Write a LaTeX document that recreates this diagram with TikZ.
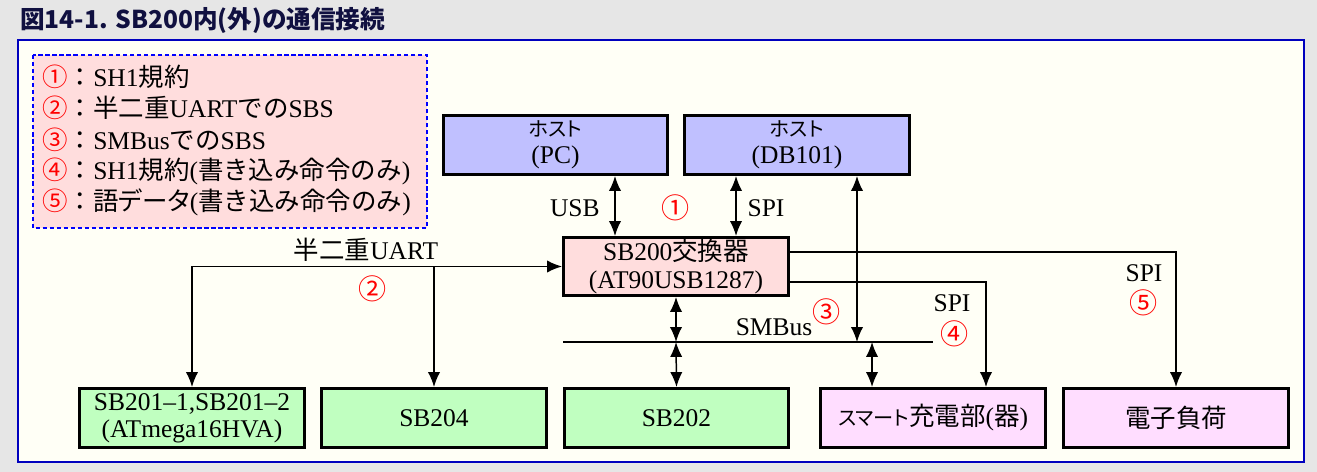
\documentclass[tikz,border=0pt]{standalone}
\usepackage{fontspec}
\setmainfont{Liberation Serif}
\newfontfamily\jp{Noto Sans CJK JP}
\newfontfamily\jpp[RawFeature=+palt]{Noto Sans CJK JP}
\usetikzlibrary{arrows.meta, positioning}
\definecolor{pagegray}{RGB}{230, 230, 230}
\definecolor{panelbg}{RGB}{255, 255, 246}
\definecolor{frameblue}{RGB}{0, 0, 190}
\definecolor{titlenavy}{RGB}{16, 16, 64}
\definecolor{hostblue}{RGB}{192, 192, 255}
\definecolor{corepink}{RGB}{255, 221, 221}
\definecolor{battgreen}{RGB}{192, 255, 192}
\definecolor{loadpink}{RGB}{255, 221, 255}
\definecolor{legendblue}{RGB}{0, 0, 255}

\begin{document}
\begin{tikzpicture}[x=0.02cm, y=-0.02cm,
  box/.style={draw, line width=1.7pt, minimum width=4.5cm, minimum height=1.18cm,
    inner sep=0pt, align=center, font=\fontsize{14.5}{15.5}\selectfont},
  hostbox/.style={box, fill=hostblue},
  corebox/.style={box, fill=corepink, minimum height=1.16cm},
  battbox/.style={box, fill=battgreen},
  loadbox/.style={box, fill=loadpink},
  link/.style={line width=0.85pt, -{Latex[length=8.5pt,width=7pt]}},
  dlink/.style={line width=0.85pt, {Latex[length=8.5pt,width=7pt]}-{Latex[length=8.5pt,width=7pt]}},
  lbl/.style={inner sep=0pt, font=\fontsize{14.5}{15.5}\selectfont},
  num/.style={inner sep=0pt, text=red, font=\jp\fontsize{16}{17}\selectfont},
  ]
  % 背景と枠
  \fill[pagegray] (0,0) rectangle (1317,472);
  \draw[frameblue, line width=1.1pt, fill=panelbg] (18,40) rectangle (1304,462);
  \node[anchor=west, inner sep=0pt, text=titlenavy, font=\jp\bfseries\fontsize{14}{15}\selectfont]
    (title) at (20,21) {図14-1. SB200内(外)の通信接続};

  % 凡例
  \draw[legendblue, line width=0.7pt, dash pattern=on 2.4pt off 1.6pt, fill=corepink]
    (33,55) rectangle (427,228);
  \node[lbl, anchor=west] (leg1) at (42,77)  {{\jp\textcolor{red}{①}：}SH1{\jp 規約}};
  \node[lbl, anchor=west] (leg2) at (42,108) {{\jp\textcolor{red}{②}：半二重}UART{\jp での}SBS};
  \node[lbl, anchor=west] (leg3) at (42,140) {{\jp\textcolor{red}{③}：}SMBus{\jp での}SBS};
  \node[lbl, anchor=west] (leg4) at (42,171) {{\jp\textcolor{red}{④}：}SH1{\jp 規約}({\jp 書き込み命令のみ})};
  \node[lbl, anchor=west] (leg5) at (42,202) {{\jp\textcolor{red}{⑤}：語}{\jpp データ}({\jp 書き込み命令のみ})};

  % ホストと交換器
  \node[hostbox] (pc) at (555.5,145) {{\jpp\fontsize{11.5}{12}\selectfont ホスト}\\(PC)};
  \node[hostbox] (db) at (797,145) {{\jpp\fontsize{11.5}{12}\selectfont ホスト}\\(DB101)};
  \node[corebox] (core) at (676,266.5) {SB200{\jp 交換器}\\(AT90USB1287)};

  % 下段の機器
  \node[battbox] (sb201) at (192,418) {SB201--1,SB201--2\\(ATmega16HVA)};
  \node[battbox] (sb204) at (434,418) {SB204};
  \node[battbox] (sb202) at (676.5,418) {SB202};
  \node[loadbox] (chg) at (933,418)
    {{\jpp\fontsize{11.5}{12}\selectfont スマート}{\jp 充電部}({\jp 器})};
  \node[loadbox] (load) at (1176,418) {{\jp 電子負荷}};

  % USB / SPI
  \coordinate (usb) at ([xshift=1.19cm]pc.south);
  \coordinate (spi) at ([xshift=-1.22cm]db.south);
  \draw[dlink] (usb) -- (usb |- core.north);
  \draw[dlink] (spi) -- (spi |- core.north);
  \node[lbl, anchor=east] (usblbl) at (600,208) {USB};
  \node[lbl] (spilbl1) at (766,208) {SPI};
  \node[num] (n1) at (676,208) {①};

  % 半二重UART
  \coordinate (uart) at (sb201.north |- core.west);
  \draw[link] (uart) -- (core.west);
  \draw[link] (uart) -- (sb201.north);
  \draw[link] (uart -| sb204.north) -- (sb204.north);
  \node[lbl] (uartlbl) at (366,250) {{\jp 半二重}UART};
  \node[num] (n2) at (373,289) {②};

  % SMBus
  \coordinate (busL) at (563,342);
  \coordinate (busR) at (933,342);
  \draw[line width=1.4pt] (busL) -- (busR);
  \draw[dlink] (core.south) -- (core.south |- busL);
  \draw[dlink] (core.south |- busL) -- (sb202.north);
  \coordinate (dbs) at ([xshift=1.2cm]db.south);
  \draw[dlink] (dbs) -- (dbs |- busL);
  \coordinate (chgbus) at ([xshift=-1.22cm]chg.north);
  \draw[dlink] (chgbus |- busL) -- (chgbus);
  \node[lbl] (smblbl) at (774,327) {SMBus};
  \node[num] (n3) at (827,312) {③};

  % SPI（書き込み）
  \draw[link] ([yshift=-0.31cm]core.east) -| ([xshift=1.06cm]chg.north);
  \draw[link] ([yshift=0.29cm]core.east) -| (load.north);
  \node[lbl] (spilbl2) at (952,303) {SPI};
  \node[num] (n4) at (955,334) {④};
  \node[lbl] (spilbl3) at (1144,273) {SPI};
  \node[num] (n5) at (1144,303) {⑤};
\end{tikzpicture}
\end{document}
